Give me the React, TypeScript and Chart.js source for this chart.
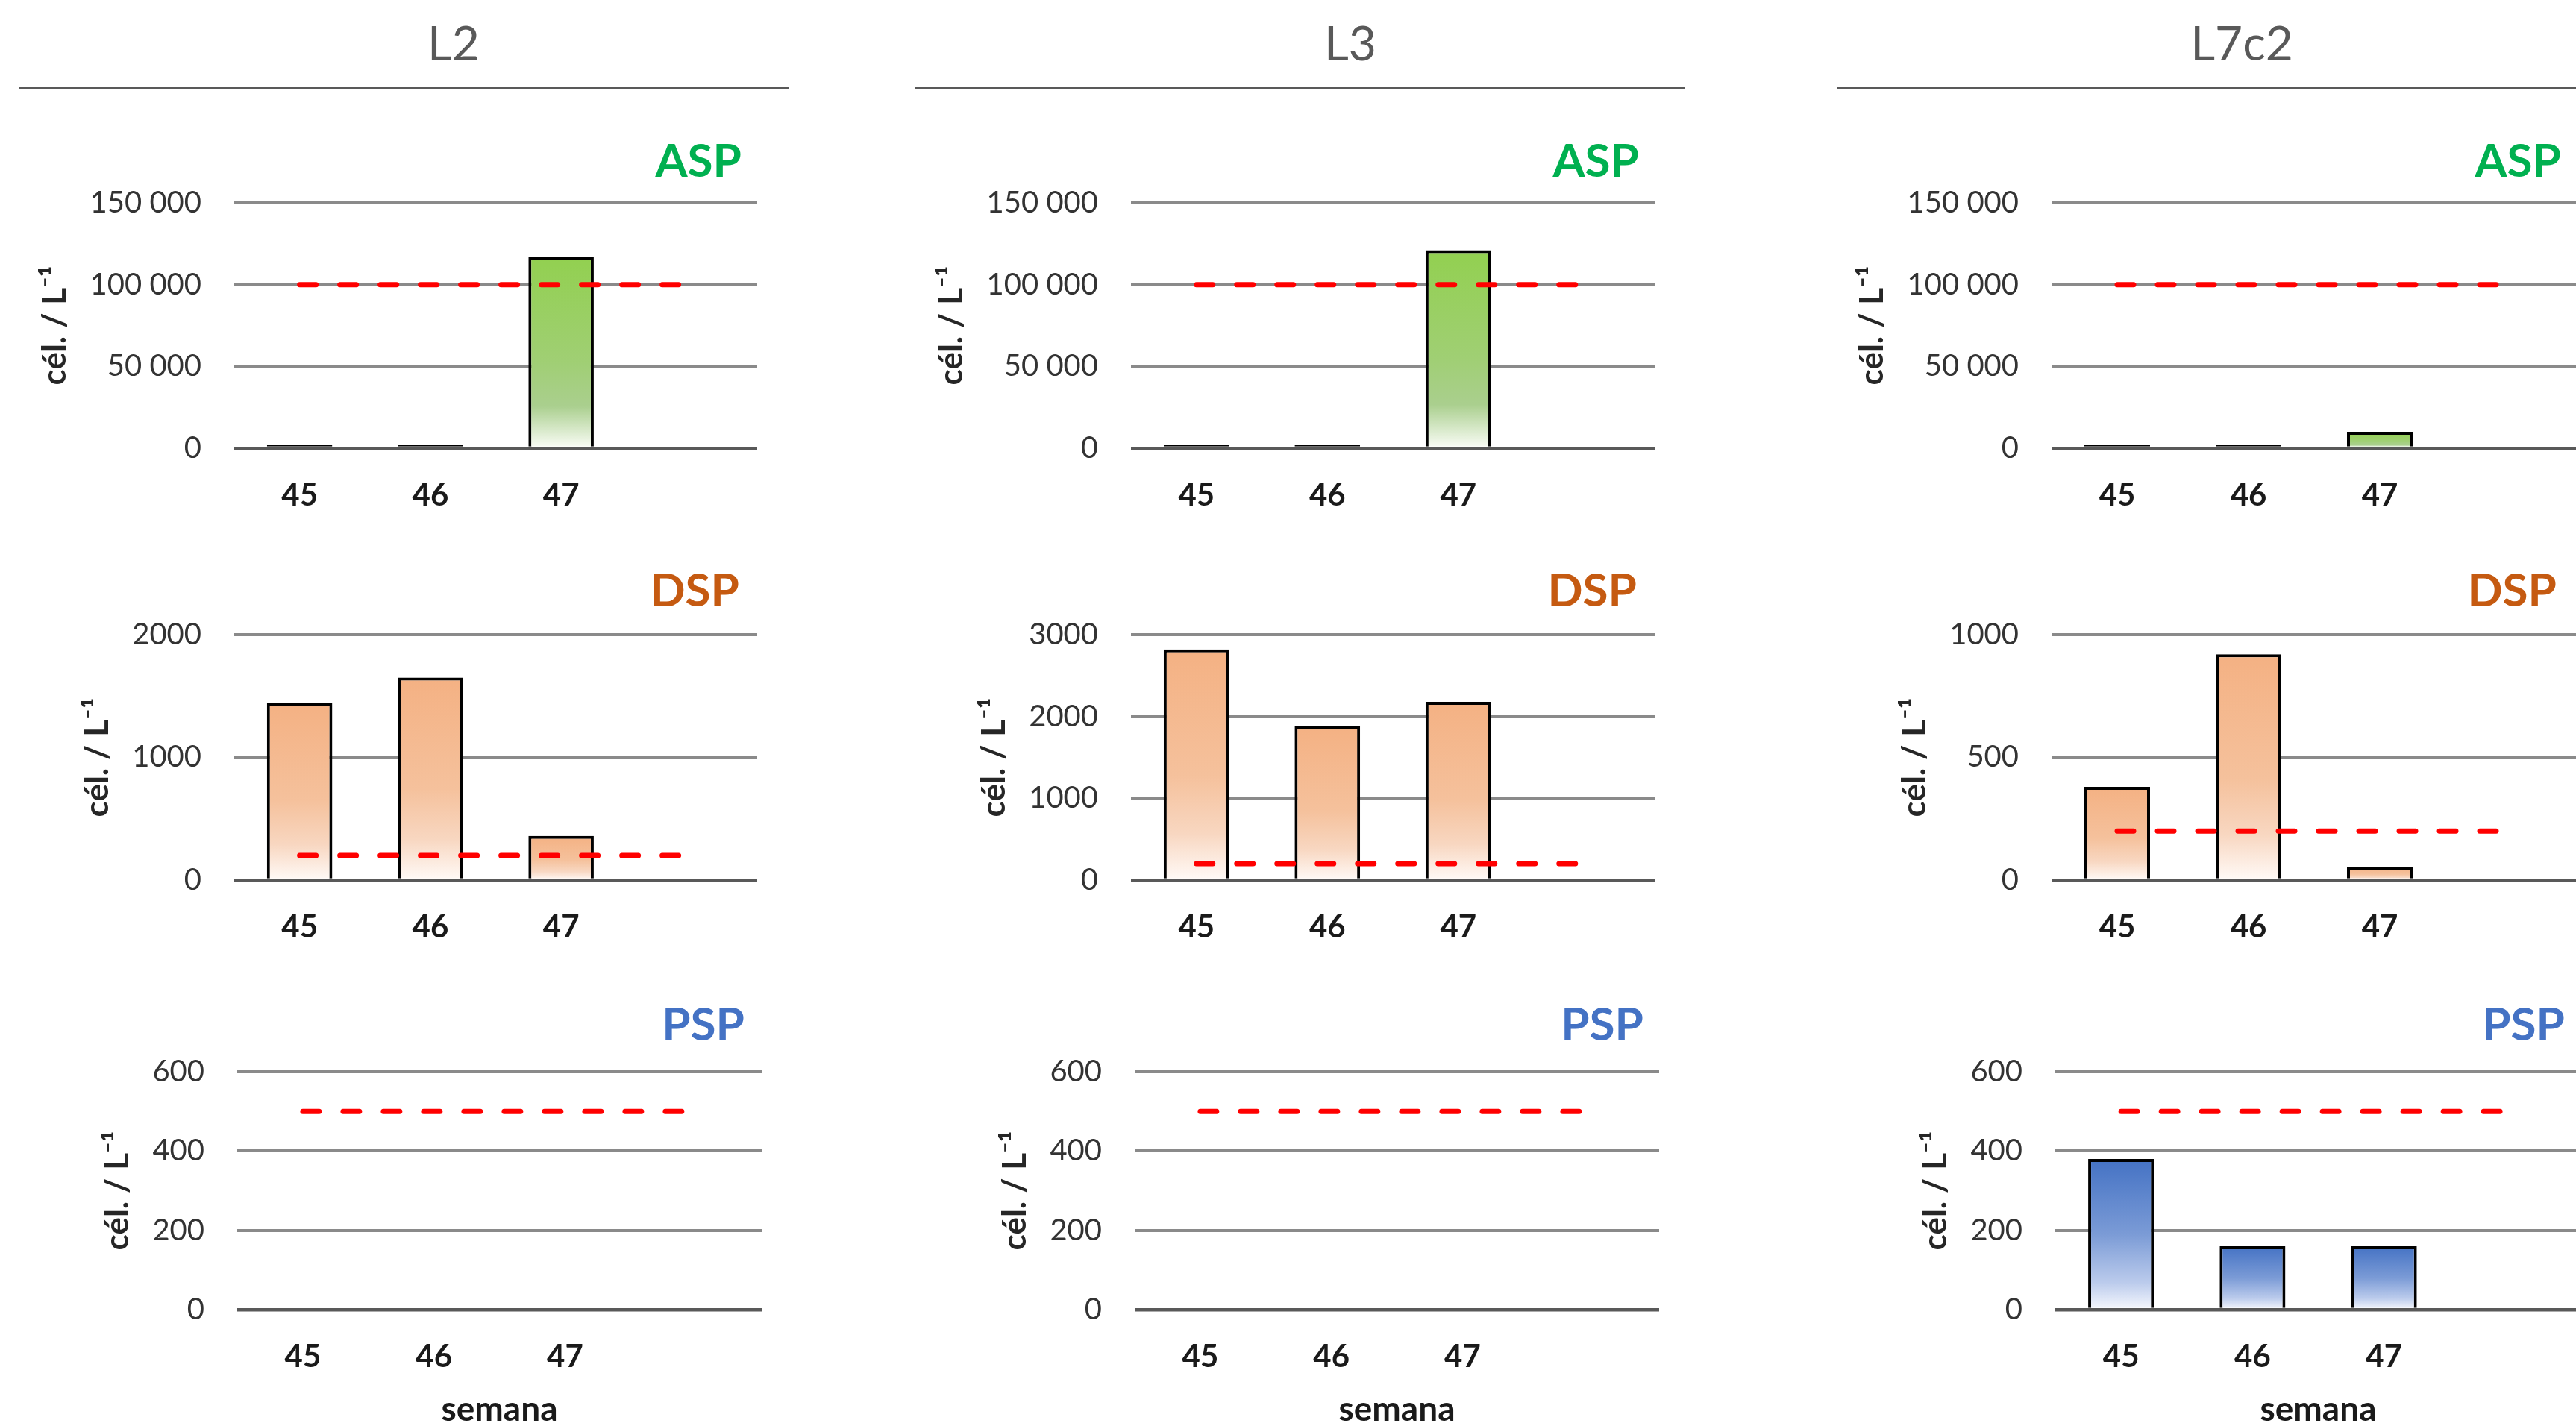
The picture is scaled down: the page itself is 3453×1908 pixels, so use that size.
import React, { useEffect, useRef } from 'react';
import { Chart, registerables } from 'chart.js';

Chart.register(...registerables);

// ---------- data ----------
const WEEKS = ['45', '46', '47', ''];
const SITES = ['L2', 'L3', 'L7c2'];
const GROUPS = ['ASP', 'DSP', 'PSP'];

const L2_ASP = [2000, 2000, 117000, null];
const L3_ASP = [2000, 2000, 121000, null];
const L7C2_ASP = [2000, 2000, 10000, null];

const L2_DSP = [1440, 1650, 360, null];
const L3_DSP = [2820, 1880, 2180, null];
const L7C2_DSP = [380, 920, 55, null];

const L2_PSP = [0, 0, 0, null];
const L3_PSP = [0, 0, 0, null];
const L7C2_PSP = [380, 160, 160, null];

const ASP_LIMIT = [100000, 100000, 100000, 100000];
const DSP_LIMIT = [200, 200, 200, 200];
const PSP_LIMIT = [500, 500, 500, 500];

const ASP_TICK_VALUES = [0, 50000, 100000, 150000];
const ASP_TICK_LABELS = ['0', '50 000', '100 000', '150 000'];
const DSP_L2_TICK_VALUES = [0, 1000, 2000];
const DSP_L2_TICK_LABELS = ['0', '1000', '2000'];
const DSP_L3_TICK_VALUES = [0, 1000, 2000, 3000];
const DSP_L3_TICK_LABELS = ['0', '1000', '2000', '3000'];
const DSP_L7C2_TICK_VALUES = [0, 500, 1000];
const DSP_L7C2_TICK_LABELS = ['0', '500', '1000'];
const PSP_TICK_VALUES = [0, 200, 400, 600];
const PSP_TICK_LABELS = ['0', '200', '400', '600'];

const Y_TITLE = 'cél. / L⁻¹';
const X_TITLE = 'semana';

// ---------- styles / layout ----------
const FONT = 'Lato, "Open Sans", sans-serif';
const GROUP_COLORS: Record<string, string> = { ASP: '#00B050', DSP: '#C55A11', PSP: '#4472C4' };
const GRADIENTS: Record<string, [number, string][]> = {
  ASP: [[0, '#92D050'], [0.55, '#A0CF74'], [0.78, '#AACF8E'], [1, '#FBFDF8']],
  DSP: [[0, '#F4B183'], [0.55, '#F5C19C'], [0.8, '#F8D7C1'], [1, '#FFFAF7']],
  PSP: [[0, '#4472C4'], [0.5, '#7B9BD6'], [0.82, '#BBCBEC'], [1, '#F6F8FD']],
};
const CLEAR = 'rgba(0,0,0,0)';

const COL_CANVAS_LEFT = [0, 1130, 2360];
const AREA_X = [
  [[314, 1015], [314, 1015], [318, 1021]],
  [[1516, 2218], [1516, 2218], [1521, 2224]],
  [[2750, 3454], [2750, 3454], [2755, 3460]],
];
const AREA_Y = [[272, 601], [851, 1180], [1437, 1756]];
const TITLE_RIGHT = [[994, 991, 998], [2197, 2194, 2203], [3433, 3427, 3438]];
const TITLE_CAP_TOP = [193, 768.5, 1351];
const HEADER_CX = [608, 1810, 3005];
const HEADER_LINES = [[25, 1058], [1227, 2259], [2462, 3453]];

type PanelSpec = {
  group: string;
  values: (number | null)[];
  limit: number[];
  tickValues: number[];
  tickLabels: string[];
  col: number;
  row: number;
};

const PANELS: PanelSpec[] = [
  { group: 'ASP', values: L2_ASP, limit: ASP_LIMIT, tickValues: ASP_TICK_VALUES, tickLabels: ASP_TICK_LABELS, col: 0, row: 0 },
  { group: 'ASP', values: L3_ASP, limit: ASP_LIMIT, tickValues: ASP_TICK_VALUES, tickLabels: ASP_TICK_LABELS, col: 1, row: 0 },
  { group: 'ASP', values: L7C2_ASP, limit: ASP_LIMIT, tickValues: ASP_TICK_VALUES, tickLabels: ASP_TICK_LABELS, col: 2, row: 0 },
  { group: 'DSP', values: L2_DSP, limit: DSP_LIMIT, tickValues: DSP_L2_TICK_VALUES, tickLabels: DSP_L2_TICK_LABELS, col: 0, row: 1 },
  { group: 'DSP', values: L3_DSP, limit: DSP_LIMIT, tickValues: DSP_L3_TICK_VALUES, tickLabels: DSP_L3_TICK_LABELS, col: 1, row: 1 },
  { group: 'DSP', values: L7C2_DSP, limit: DSP_LIMIT, tickValues: DSP_L7C2_TICK_VALUES, tickLabels: DSP_L7C2_TICK_LABELS, col: 2, row: 1 },
  { group: 'PSP', values: L2_PSP, limit: PSP_LIMIT, tickValues: PSP_TICK_VALUES, tickLabels: PSP_TICK_LABELS, col: 0, row: 2 },
  { group: 'PSP', values: L3_PSP, limit: PSP_LIMIT, tickValues: PSP_TICK_VALUES, tickLabels: PSP_TICK_LABELS, col: 1, row: 2 },
  { group: 'PSP', values: L7C2_PSP, limit: PSP_LIMIT, tickValues: PSP_TICK_VALUES, tickLabels: PSP_TICK_LABELS, col: 2, row: 2 },
];

function barPixelHeight(c: any): number {
  const chart = c.chart;
  if (c.type !== 'data' || !chart.chartArea || c.raw == null) return 0;
  const ys = chart.scales.y;
  return ys.getPixelForValue(0) - ys.getPixelForValue(c.raw);
}

function Panel({ spec }: { spec: PanelSpec }) {
  const ref = useRef<HTMLCanvasElement>(null);
  const [aLeft, aRight] = AREA_X[spec.col][spec.row];
  const [aTop, aBottom] = AREA_Y[spec.row];
  const isLast = spec.row === 2;
  const cLeft = COL_CANVAS_LEFT[spec.col];
  const cTop = aTop - 40;
  const cWidth = aRight + 20 - cLeft;
  const cHeight = aBottom + (isLast ? 180 : 115) - cTop;

  useEffect(() => {
    const canvas = ref.current;
    if (!canvas) return;
    const stops = GRADIENTS[spec.group];
    const tv = spec.tickValues;
    const tl = spec.tickLabels;

    const bg = (c: any) => {
      const chart = c.chart;
      if (c.type !== 'data' || !chart.chartArea || c.raw == null) return stops[0][1];
      const ys = chart.scales.y;
      const top = ys.getPixelForValue(c.raw);
      const bottom = ys.getPixelForValue(0);
      if (!(bottom - top > 0.5)) return stops[0][1];
      const g = chart.ctx.createLinearGradient(0, top, 0, bottom);
      stops.forEach(([o, col]) => g.addColorStop(o, col));
      return g;
    };

    const chart = new Chart(canvas, {
      type: 'bar',
      data: {
        labels: WEEKS,
        datasets: [
          {
            type: 'line',
            data: spec.limit,
            borderColor: '#FF0000',
            borderWidth: 7,
            borderDash: [22, 32],
            borderCapStyle: 'round',
            pointRadius: 0,
            fill: false,
            order: 0,
          } as any,
          {
            type: 'bar',
            data: spec.values,
            backgroundColor: bg,
            borderColor: '#000000',
            borderWidth: 4,
            borderSkipped: (c: any) => (barPixelHeight(c) < 10 ? false : 'start'),
            categoryPercentage: 0.5,
            barPercentage: 1,
            order: 1,
          } as any,
        ],
      },
      options: {
        responsive: false,
        maintainAspectRatio: false,
        animation: false,
        layout: { padding: { left: 0, right: 20, top: 40, bottom: 0 } },
        plugins: { legend: { display: false }, tooltip: { enabled: false }, title: { display: false } },
        scales: {
          x: {
            grid: { display: true, drawOnChartArea: false, drawTicks: true, tickLength: 38, color: CLEAR, tickColor: CLEAR },
            border: { display: false },
            ticks: {
              padding: 0,
              autoSkip: false,
              maxRotation: 0,
              color: '#1a1a1a',
              font: { family: FONT, size: 42, weight: 'bold' },
            },
            title: {
              display: isLast,
              text: X_TITLE,
              color: '#1a1a1a',
              font: { family: FONT, size: 46, weight: 'bold' },
              padding: { top: 18, bottom: 0 },
            },
          },
          y: {
            min: tv[0],
            max: tv[tv.length - 1],
            grid: {
              drawTicks: true,
              tickLength: 44,
              tickColor: CLEAR,
              color: (c: any) => (c.tick && c.tick.value === 0 ? '#595959' : '#8A8A8A'),
              lineWidth: (c: any) => (c.tick && c.tick.value === 0 ? 4.5 : 4),
            },
            border: { display: false },
            ticks: {
              stepSize: tv[1] - tv[0],
              padding: 0,
              color: '#333333',
              font: { family: FONT, size: 40 },
              callback: (v: any) => {
                const i = tv.indexOf(Number(v));
                return i >= 0 ? tl[i] : '';
              },
            },
            title: {
              display: true,
              text: Y_TITLE,
              color: '#262626',
              font: { family: FONT, size: 44, weight: 'bold' },
              padding: { top: 0, bottom: 20 },
            },
          },
        },
      } as any,
    });

    // place the plot area exactly where the reference has it
    const a = chart.chartArea;
    const pad = {
      left: Math.max(0, (aLeft - cLeft) - a.left),
      right: 20 + (a.right - (aRight - cLeft)),
      top: 40 + ((aTop - cTop) - a.top),
      bottom: Math.max(0, a.bottom - (aBottom - cTop)),
    };
    (chart.config.options as any).layout = { padding: pad };
    chart.update();

    return () => chart.destroy();
  }, []);

  return (
    <canvas
      ref={ref}
      width={cWidth}
      height={cHeight}
      style={{ position: 'absolute', left: cLeft, top: cTop, width: cWidth, height: cHeight }}
    />
  );
}

export default function App() {
  return (
    <div
      style={{
        position: 'fixed',
        left: 0,
        top: 0,
        width: 3453,
        height: 1908,
        overflow: 'hidden',
        background: '#ffffff',
        fontFamily: FONT,
      }}
    >
      {SITES.map((s, i) => (
        <div
          key={'h' + s}
          style={{
            position: 'absolute',
            left: HEADER_CX[i] - 300,
            width: 600,
            top: 25,
            textAlign: 'center',
            fontSize: 64,
            lineHeight: 1,
            fontWeight: 400,
            color: '#595959',
            whiteSpace: 'nowrap',
          }}
        >
          {s}
        </div>
      ))}
      {HEADER_LINES.map(([x1, x2], i) => (
        <div
          key={'l' + i}
          style={{ position: 'absolute', left: x1, top: 115.5, width: x2 - x1, height: 4, background: '#595959' }}
        />
      ))}
      {PANELS.map((p, i) => (
        <div
          key={'t' + i}
          style={{
            position: 'absolute',
            right: 3453 - TITLE_RIGHT[p.col][p.row],
            top: TITLE_CAP_TOP[p.row] - 10.6,
            fontSize: 62,
            lineHeight: 1,
            fontWeight: 700,
            color: GROUP_COLORS[p.group],
            whiteSpace: 'nowrap',
            textAlign: 'right',
          }}
        >
          {GROUPS[p.row]}
        </div>
      ))}
      {PANELS.map((p, i) => (
        <Panel key={'p' + i} spec={p} />
      ))}
    </div>
  );
}
